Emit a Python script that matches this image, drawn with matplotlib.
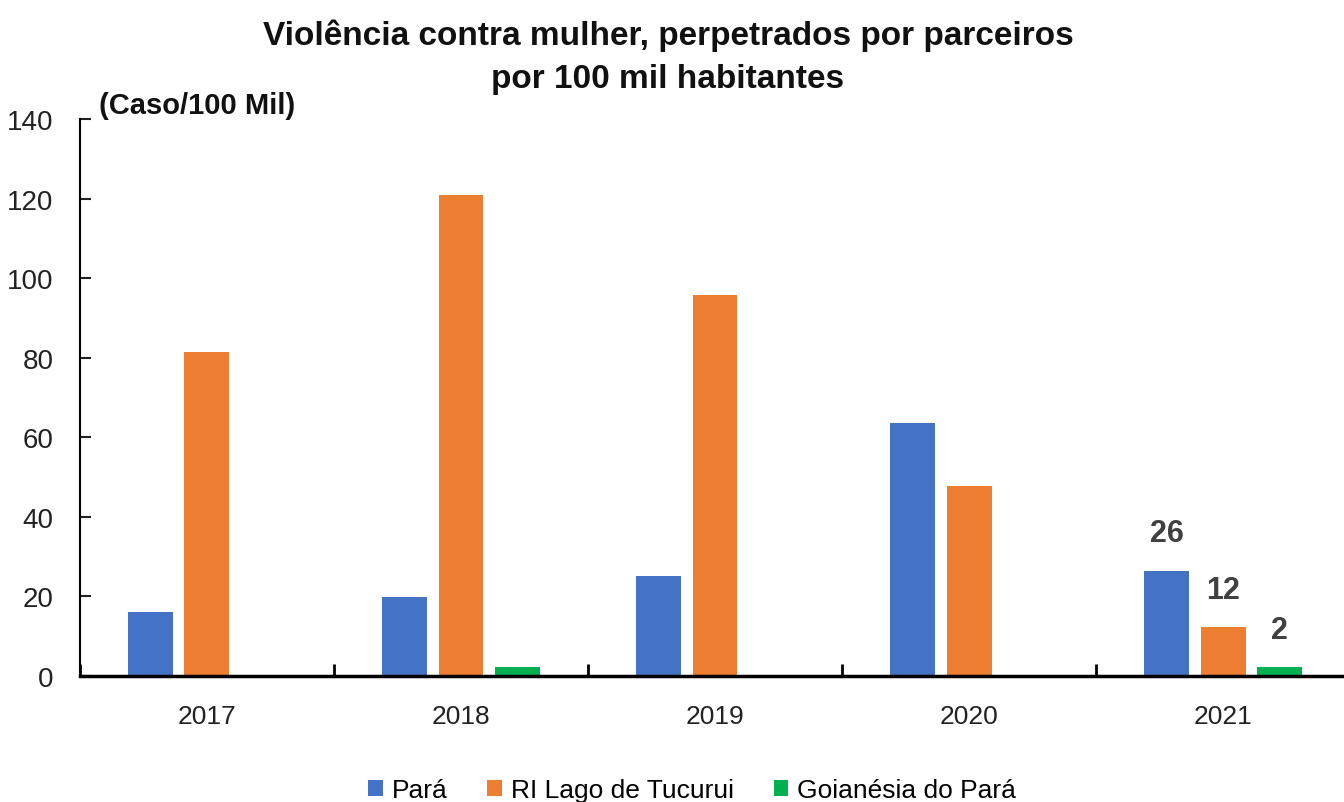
import numpy as np
import matplotlib.pyplot as plt

anos = ['2017', '2018', '2019', '2020', '2021']
para = [16, 19.8, 25, 63.5, 26.5]
tucurui = [81.5, 120.8, 95.7, 47.8, 12.2]
goianesia = [0, 2.3, 0, 0, 2.3]
rotulos_2021 = ['26', '12', '2']

series = ['Pará', 'RI Lago de Tucurui', 'Goianésia do Pará']
cores = ['#4472C4', '#ED7D31', '#00B050']

plt.rcParams['font.family'] = ['Liberation Sans Narrow', 'Liberation Sans', 'DejaVu Sans']

fig = plt.figure(figsize=(13.44, 8.03), dpi=100)
ax = fig.add_axes([0.0595, 0.157, 0.945, 0.6936])

x = np.arange(len(anos))
passo = 0.222
larg = 0.177
barras = []
for k, (vals, nome, cor) in enumerate(zip([para, tucurui, goianesia], series, cores)):
    b = ax.bar(x + (k - 1) * passo, vals, width=larg, color=cor, label=nome)
    barras.append(b)

# rótulos so no ultimo ano
for b, txt in zip(barras, rotulos_2021):
    r = b[-1]
    ax.annotate(txt, (r.get_x() + r.get_width() / 2, r.get_height()),
                xytext=(0, 16), textcoords='offset points', ha='center', va='bottom',
                fontsize=22, fontweight='bold', color='#404040')

ax.set_xlim(-0.5, 4.5)
ax.set_ylim(0, 140)
ax.set_yticks(range(0, 141, 20))
ax.tick_params(axis='y', direction='in', length=8, width=1.5, labelsize=20, pad=19, colors='#222222')
ax.set_xticks(np.arange(-0.5, 5, 1))
ax.set_xticklabels([])
ax.tick_params(axis='x', which='major', direction='in', length=9, width=2)
ax.set_xticks(x, minor=True)
ax.set_xticklabels(anos, minor=True)
ax.tick_params(axis='x', which='minor', length=0, labelsize=19, pad=20, colors='#222222')

ax.spines['top'].set_visible(False)
ax.spines['right'].set_visible(False)
ax.spines['left'].set_linewidth(1.5)
ax.spines['bottom'].set_linewidth(2.5)

ax.text(0.015, 1.0, '(Caso/100 Mil)', transform=ax.transAxes, fontsize=21,
        fontweight='bold', va='bottom', ha='left', color='#111111')

fig.text(0.497, 0.976, 'Violência contra mulher, perpetrados por parceiros\npor 100 mil habitantes',
         ha='center', va='top', fontsize=24, fontweight='bold', linespacing=1.5, color='#111111')

fig.legend(loc='lower center', bbox_to_anchor=(0.515, -0.03), ncol=3, frameon=False,
           fontsize=19, handlelength=0.55, handleheight=0.55, handletextpad=0.35, columnspacing=1.5)

fig.savefig('out.png', dpi=100)
